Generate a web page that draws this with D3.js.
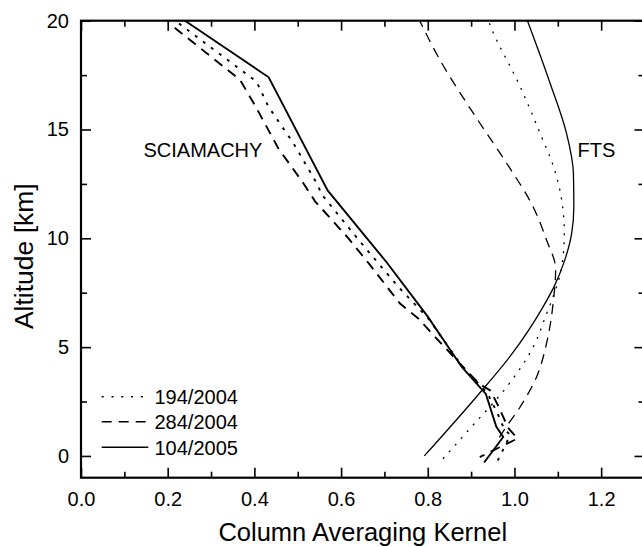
<!DOCTYPE html>
<html>
<head>
<meta charset="utf-8">
<script src="https://cdn.jsdelivr.net/npm/d3@7"></script>
<style>
  html, body { margin: 0; padding: 0; background: #fff; }
  svg { display: block; }
  text { font-family: "Liberation Sans", Arial, Helvetica, sans-serif; fill: #000; }
</style>
</head>
<body>
<svg id="chart" width="642" height="547"></svg>
<script>
// Column averaging kernels: value vs. altitude [km]

// SCIAMACHY kernels (layer grid, drawn as straight segments)
const sciaKernel194 = [0.226, 0.405, 0.432, 0.490, 0.544, 0.556, 0.644, 0.732, 0.800, 0.880, 0.937, 0.960, 0.975, 0.990, 0.958];
const sciaAlt194    = [19.87, 17.2, 16.06, 14.37, 12.53, 12.0, 9.84, 7.77, 6.35, 4.1, 2.9, 2.0, 1.3, 0.95, -0.36];

const sciaKernel284 = [0.216, 0.367, 0.405, 0.455, 0.513, 0.540, 0.617, 0.667, 0.736, 0.778, 0.820, 0.900, 0.920, 0.945, 0.965, 0.985, 1.007, 0.920];
const sciaAlt284    = [19.68, 17.28, 15.98, 14.14, 12.53, 11.7, 10.0, 8.77, 7.0, 6.32, 5.40, 3.7, 3.3, 3.0, 2.2, 1.3, 0.8, -0.05];

const sciaKernel104 = [0.240, 0.433, 0.569, 0.705, 0.800, 0.878, 0.934, 0.958, 0.974, 0.930];
const sciaAlt104    = [20.0, 17.4, 12.2, 8.9, 6.4, 4.1, 2.85, 1.35, 0.87, -0.3];

// FTS kernels (smooth profiles)
const ftsKernel194 = [0.835, 0.897, 0.982, 1.043, 1.074, 1.089, 1.109, 1.115, 1.109, 1.090, 1.059, 1.013, 0.945, 0.940];
const ftsAlt194    = [-0.13, 1.25, 3.17, 5.0, 6.53, 7.31, 8.69, 10.23, 11.76, 13.3, 14.83, 16.98, 19.74, 20.0];

const ftsKernel284 = [0.965, 0.978, 1.013, 1.051, 1.074, 1.090, 1.095, 1.074, 1.043, 0.982, 0.905, 0.828, 0.782];
const ftsAlt284    = [0.85, 1.25, 2.25, 3.63, 5.17, 7.16, 8.6, 9.92, 11.45, 13.45, 15.75, 18.2, 19.97];

const ftsKernel104 = [0.792, 0.912, 0.992, 1.066, 1.093, 1.116, 1.132, 1.137, 1.136, 1.120, 1.082, 1.030];
const ftsAlt104    = [0.0, 2.71, 4.63, 6.85, 7.85, 9.0, 10.23, 11.45, 12.99, 14.83, 17.14, 20.0];

// Axis ticks
const xMajorTicks = [0.0, 0.2, 0.4, 0.6, 0.8, 1.0, 1.2];
const xMinorTicks = [0.1, 0.3, 0.5, 0.7, 0.9, 1.1, 1.3];
const yMajorTicks = [0, 5, 10, 15, 20];
const yMinorTicks = [2.5, 7.5, 12.5, 17.5];

const legendLabels = ["194/2004", "284/2004", "104/2005"];
const areaLabels = ["SCIAMACHY", "FTS"];

const svg = d3.select("#chart");
const plotLeft = 81, plotRight = 644.5, plotTop = 20.7, plotBottom = 477.7;

const x = d3.scaleLinear().domain([0, 1.3]).range([plotLeft, plotRight]);
const y = d3.scaleLinear().domain([-1, 20]).range([plotBottom, plotTop]);

const styles = {
  dotted: { scia: "3,7", fts: "2,7", legend: "2,7.8" },
  dashed: { scia: "10,7", fts: "10,7", legend: "10,7" },
  solid:  { scia: null, fts: null, legend: null }
};

const zip = (xs, ys) => xs.map((v, i) => [v, ys[i]]);

const sciaLine = d3.line().x(d => x(d[0])).y(d => y(d[1]));
const ftsLine = d3.line().x(d => x(d[0])).y(d => y(d[1])).curve(d3.curveMonotoneY);

const curves = svg.append("g").attr("fill", "none").attr("stroke", "#000");

const sciaSeries = [
  { data: zip(sciaKernel194, sciaAlt194), style: "dotted" },
  { data: zip(sciaKernel284, sciaAlt284), style: "dashed" },
  { data: zip(sciaKernel104, sciaAlt104), style: "solid" }
];
const ftsSeries = [
  { data: zip(ftsKernel194, ftsAlt194), style: "dotted" },
  { data: zip(ftsKernel284, ftsAlt284), style: "dashed" },
  { data: zip(ftsKernel104, ftsAlt104), style: "solid" }
];

curves.selectAll("path.fts").data(ftsSeries).join("path")
  .attr("class", "fts")
  .attr("d", d => ftsLine(d.data))
  .attr("stroke-width", 1.3)
  .attr("stroke-dasharray", d => styles[d.style].fts);

curves.selectAll("path.scia").data(sciaSeries).join("path")
  .attr("class", "scia")
  .attr("d", d => sciaLine(d.data))
  .attr("stroke-width", 1.9)
  .attr("stroke-dasharray", d => styles[d.style].scia);

// Axes with inward ticks
function styleAxis(g) {
  g.select(".domain").remove();
  g.selectAll(".tick line").attr("stroke", "#000").attr("stroke-width", 1.6);
  g.selectAll(".tick text").attr("font-size", 20).attr("fill", "#000");
  g.attr("font-family", null);
}

const fmt1 = d3.format(".1f");

svg.append("g").attr("transform", `translate(0,${plotBottom})`)
  .call(d3.axisBottom(x).tickValues(xMajorTicks).tickSize(-10).tickPadding(14.5).tickFormat(fmt1))
  .call(styleAxis);
svg.append("g").attr("transform", `translate(0,${plotBottom})`)
  .call(d3.axisBottom(x).tickValues(xMinorTicks).tickSize(-6).tickFormat(""))
  .call(styleAxis);
svg.append("g").attr("transform", `translate(0,${plotTop})`)
  .call(d3.axisTop(x).tickValues(xMajorTicks).tickSize(-10).tickFormat(""))
  .call(styleAxis);
svg.append("g").attr("transform", `translate(0,${plotTop})`)
  .call(d3.axisTop(x).tickValues(xMinorTicks).tickSize(-6).tickFormat(""))
  .call(styleAxis);

svg.append("g").attr("transform", `translate(${plotLeft},0)`)
  .call(d3.axisLeft(y).tickValues(yMajorTicks).tickSize(-10).tickPadding(12).tickFormat(d3.format("d")))
  .call(styleAxis);
svg.append("g").attr("transform", `translate(${plotLeft},0)`)
  .call(d3.axisLeft(y).tickValues(yMinorTicks).tickSize(-6).tickFormat(""))
  .call(styleAxis);
svg.append("g").attr("transform", `translate(${plotRight},0)`)
  .call(d3.axisRight(y).tickValues(yMajorTicks).tickSize(-10).tickFormat(""))
  .call(styleAxis);
svg.append("g").attr("transform", `translate(${plotRight},0)`)
  .call(d3.axisRight(y).tickValues(yMinorTicks).tickSize(-6).tickFormat(""))
  .call(styleAxis);

// Frame
svg.append("rect")
  .attr("x", plotLeft).attr("y", plotTop)
  .attr("width", plotRight - plotLeft).attr("height", plotBottom - plotTop)
  .attr("fill", "none").attr("stroke", "#000").attr("stroke-width", 2.2);

// Axis titles
svg.append("text")
  .attr("x", (plotLeft + plotRight) / 2).attr("y", 540.5)
  .attr("text-anchor", "middle").attr("font-size", 25.5)
  .text("Column Averaging Kernel");
svg.append("text")
  .attr("transform", `translate(33,${(plotTop + plotBottom) / 2 + 7}) rotate(-90)`)
  .attr("text-anchor", "middle").attr("font-size", 26.5)
  .text("Altitude [km]");

// Instrument labels
svg.append("text").attr("x", 143.5).attr("y", 156.7).attr("font-size", 20).text(areaLabels[0]);
svg.append("text").attr("x", 577.5).attr("y", 156.7).attr("font-size", 20).text(areaLabels[1]);

// Legend
const legendStyles = ["dotted", "dashed", "solid"];
const legendY = [396.7, 421.7, 447.3];
const legend = svg.append("g");
legendLabels.forEach((lab, i) => {
  legend.append("line")
    .attr("x1", 101.7).attr("x2", 148.3)
    .attr("y1", legendY[i]).attr("y2", legendY[i])
    .attr("stroke", "#000").attr("stroke-width", 1.5)
    .attr("stroke-dasharray", styles[legendStyles[i]].legend);
  legend.append("text")
    .attr("x", 154.5).attr("y", legendY[i] + 7.3)
    .attr("font-size", 20).text(lab);
});
</script>
</body>
</html>
